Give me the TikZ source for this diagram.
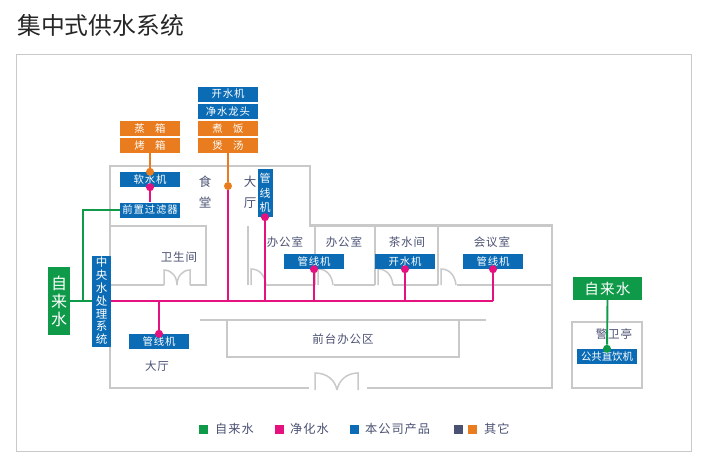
\documentclass[tikz,border=0pt]{standalone}
\usepackage{fontspec}
\setmainfont{Noto Sans CJK SC}
\newfontfamily\spacedfont[LetterSpace=8]{Noto Sans CJK SC}
\usepackage{xcolor}
\usetikzlibrary{positioning,calc}
\definecolor{prodblue}{HTML}{0B6CB5}
\definecolor{otherorange}{HTML}{E87C1E}
\definecolor{puremagenta}{HTML}{E4117F}
\definecolor{tapgreen}{HTML}{0E9A48}
\definecolor{wallgray}{HTML}{C9C9C9}
\definecolor{labelslate}{HTML}{4A5172}
\tikzset{
	wall/.style={draw=wallgray, line width=2.4pt},
	thinwall/.style={draw=wallgray, line width=1.5pt},
	box/.style={inner sep=0, text=white, font=\fontsize{10.4}{12}\selectfont\spacedfont, minimum width=60pt, minimum height=15pt},
	bluebox/.style={box, fill=prodblue},
	orangebox/.style={box, fill=otherorange},
	greenbox/.style={box, fill=tapgreen},
	roomlabel/.style={inner sep=0, text=labelslate, font=\fontsize{11.5}{13}\selectfont\spacedfont},
	biglabel/.style={inner sep=0, text=labelslate, font=\fontsize{12.5}{14}\selectfont},
	purepipe/.style={draw=puremagenta, line width=2.2pt},
	tappipe/.style={draw=tapgreen, line width=1.9pt},
	otherpipe/.style={draw=otherorange, line width=1.9pt},
	puredot/.style={circle, fill=puremagenta, inner sep=0, minimum size=8pt},
	orangedot/.style={circle, fill=otherorange, inner sep=0, minimum size=8pt},
	greendot/.style={circle, fill=tapgreen, inner sep=0, minimum size=8pt},
	legendsq/.style={inner sep=0, minimum size=9pt},
	legendtxt/.style={inner sep=0, anchor=west, text=labelslate, font=\fontsize{12.2}{14}\selectfont\spacedfont}
}
\begin{document}
\begin{tikzpicture}[x=1pt,y=-1pt]
	\useasboundingbox (0,0) rectangle (711,467);
	\node[anchor=west, inner sep=0, text=black!85, font=\fontsize{23.8}{28}\selectfont] (title) at (17,25) {集中式供水系统};
	\draw[draw=wallgray, line width=0.9pt] (16,54) rectangle (691,451);

	% building walls
	\draw[wall] (110,256) -- (110,166) -- (310,166) -- (310,225.5) -- (552,225.5) -- (552,388) -- (367,388);
	\draw[wall] (309,388) -- (110,388) -- (110,347);
	\draw[thinwall] (110,226) -- (206,226) -- (206,285) -- (190,285);
	\draw[thinwall] (164,285) -- (110,285);
	\draw[thinwall] (164,285) -- (164,270) .. controls (172,270) and (177,277) .. (177,285);
	\draw[thinwall] (190,285) -- (190,270) .. controls (182,270) and (177,277) .. (177,285);
	\draw[thinwall] (248,285) -- (248,226);
	\draw[thinwall] (315,226) -- (315,285);
	\draw[thinwall] (375,226) -- (375,285);
	\draw[thinwall] (438,226) -- (438,285);
	\draw[thinwall] (265,285) -- (315,285);
	\draw[thinwall] (334,285) -- (375,285);
	\draw[thinwall] (393,285) -- (438,285);
	\draw[thinwall] (457,285) -- (552,285);
	\foreach \jamb in {251,318,378,441}
		\draw[thinwall] (\jamb,285) -- (\jamb,269) .. controls (\jamb+9,269) and (\jamb+14,276) .. (\jamb+15,285);
	\draw[thinwall] (200,320) -- (486,320);
	\draw[thinwall] (227,320) -- (227,357) -- (459,357) -- (459,320);
	\draw[thinwall] (315,390) -- (315,373) .. controls (327,373) and (335,380) .. (337,390);
	\draw[thinwall] (358,390) -- (358,373) .. controls (347,373) and (339,380) .. (337,390);
	\draw[wall] (572,322) rectangle (642,388);

	% room labels
	\node[biglabel] (canteen1) at (205,182) {食};
	\node[biglabel] (canteen2) at (205,203) {堂};
	\node[biglabel] (hall1) at (250,182) {大};
	\node[biglabel] (hall2) at (250,203) {厅};
	\node[roomlabel] (toilet) at (179,257) {卫生间};
	\node[roomlabel] (office1) at (285,242) {办公室};
	\node[roomlabel] (office2) at (344,242) {办公室};
	\node[roomlabel] (tearoom) at (407,242) {茶水间};
	\node[roomlabel] (meeting) at (492,242) {会议室};
	\node[roomlabel] (frontdesk) at (343,339) {前台办公区};
	\node[roomlabel] (lobby) at (157,366) {大厅};
	\node[roomlabel] (guard) at (614,334) {警卫亭};

	% equipment
	\node[bluebox] (boiler) at (228,94) {开水机};
	\node[bluebox] (faucet) at (228,111.5) {净水龙头};
	\node[orangebox] (rice) at (228,128.5) {煮\quad 饭};
	\node[orangebox] (soup) at (228,145.5) {煲\quad 汤};
	\node[orangebox] (steam) at (150,128.5) {蒸\quad 箱};
	\node[orangebox] (oven) at (150,145.5) {烤\quad 箱};
	\node[bluebox] (softener) at (150,179.5) {软水机};
	\node[bluebox] (prefilter) at (150,210) {前置过滤器};
	\node[greenbox, minimum width=22pt, minimum height=68pt, align=center, font=\fontsize{16}{18}\selectfont] (tapleft) at (59,301) {自\\来\\水};
	\node[bluebox, minimum width=19pt, minimum height=91pt, align=center, font=\fontsize{11.5}{12.8}\selectfont] (central) at (101.5,301) {中\\央\\水\\处\\理\\系\\统};
	\node[bluebox, minimum width=15pt, minimum height=48pt, align=center, font=\fontsize{11}{14.5}\selectfont] (pipeV) at (265,193) {管\\线\\机};
	\node[bluebox] (pipeA) at (159,341.5) {管线机};
	\node[bluebox] (pipeB) at (314,261.5) {管线机};
	\node[bluebox] (boilerB) at (405,261.5) {开水机};
	\node[bluebox] (pipeC) at (493,261.5) {管线机};
	\node[greenbox, minimum width=69pt, minimum height=23pt, font=\fontsize{14.6}{16}\selectfont\spacedfont] (tapright) at (607.5,288.5) {自来水};
	\node[bluebox, font=\fontsize{10.4}{12}\selectfont] (publicdrink) at (607,356.5) {公共直饮机};

	% junctions
	\node[orangedot] (dotsoft) at (softener.north) {};
	\node[puredot] (dotsoftB) at (softener.south) {};
	\node[orangedot] (dotrice) at (228,186) {};
	\node[puredot] (dotV) at (pipeV.south) {};
	\node[puredot] (dotA) at (pipeA.north) {};
	\node[puredot] (dotB) at (pipeB.south) {};
	\node[puredot] (dotC) at (boilerB.south) {};
	\node[puredot] (dotD) at (pipeC.south) {};
	\node[greendot] (dotguard) at (publicdrink.north) {};
	\coordinate (mainend) at (493,301);

	% pipes
	\draw[otherpipe] (oven.south) -- (dotsoft);
	\draw[otherpipe] (soup.south) -- (dotrice);
	\draw[purepipe] (dotsoftB) -- (prefilter.north);
	\draw[tappipe] (prefilter.west) -| (83,301);
	\draw[tappipe] (tapleft.east) -- (central.west);
	\draw[purepipe] (central.east) -- (mainend);
	\draw[purepipe] (dotrice) -- (dotrice |- mainend);
	\draw[purepipe] (dotV) -- (dotV |- mainend);
	\draw[purepipe] (dotA) -- (dotA |- mainend);
	\draw[purepipe] (dotB) -- (dotB |- mainend);
	\draw[purepipe] (dotC) -- (dotC |- mainend);
	\draw[purepipe] (dotD) -- (mainend);
	\draw[tappipe] (tapright.south) -- (dotguard);

	% legend
	\node[legendsq, fill=tapgreen] (sqtap) at (203.5,429) {};
	\node[legendtxt] (txttap) at (215,429) {自来水};
	\node[legendsq, fill=puremagenta] (sqpure) at (279.5,429) {};
	\node[legendtxt] (txtpure) at (290,429) {净化水};
	\node[legendsq, fill=prodblue] (sqprod) at (354.5,429) {};
	\node[legendtxt] (txtprod) at (365,429) {本公司产品};
	\node[legendsq, fill=labelslate] (sqslate) at (458.5,429) {};
	\node[legendsq, fill=otherorange] (sqorange) at (472.5,429) {};
	\node[legendtxt] (txtother) at (484,429) {其它};
\end{tikzpicture}
\end{document}
